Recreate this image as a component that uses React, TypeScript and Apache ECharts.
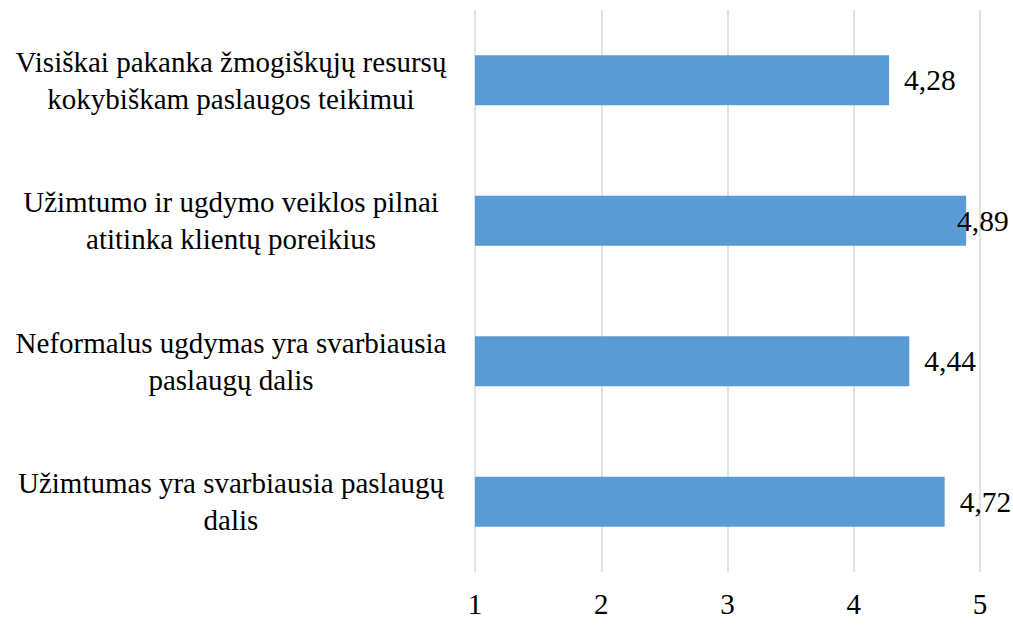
import React, { useEffect, useRef } from "react";
import * as echarts from "echarts";

const categories: string[] = [
  "Visiškai pakanka žmogiškųjų resursų\nkokybiškam paslaugos teikimui",
  "Užimtumo ir ugdymo veiklos pilnai\natitinka klientų poreikius",
  "Neformalus ugdymas yra svarbiausia\npaslaugų dalis",
  "Užimtumas yra svarbiausia paslaugų\ndalis",
];
const values: number[] = [4.28, 4.89, 4.44, 4.72];
const axisMin = 1;
const axisMax = 5;
const axisStep = 1;

const FONT = "Liberation Serif, serif";

export default function App() {
  const ref = useRef<HTMLDivElement>(null);
  useEffect(() => {
    if (!ref.current) return;
    const chart = echarts.init(ref.current, undefined, { renderer: "svg" });
    chart.setOption({
      animation: false,
      backgroundColor: "#ffffff",
      textStyle: { fontFamily: FONT },
      grid: { left: 475, right: 33, top: 10, bottom: 58, containLabel: false },
      xAxis: {
        type: "value",
        min: axisMin,
        max: axisMax,
        interval: axisStep,
        axisLine: { show: false },
        axisTick: { show: false },
        splitLine: { show: true, lineStyle: { color: "#d9d9d9", width: 1.5 } },
        axisLabel: {
          color: "#000000",
          fontSize: 29,
          fontFamily: FONT,
          margin: 17,
        },
      },
      yAxis: {
        type: "category",
        inverse: true,
        data: categories,
        axisLine: { show: false },
        axisTick: { show: false },
        splitLine: { show: false },
        axisLabel: {
          color: "#000000",
          fontSize: 29,
          fontFamily: FONT,
          align: "center",
          margin: 244,
          lineHeight: 37,
        },
      },
      series: [
        {
          type: "bar",
          barWidth: 50,
          itemStyle: { color: "#5b9bd5" },
          data: values.map((v) =>
            v > 4.8
              ? { value: v, label: { offset: [-24, 0] } }
              : { value: v }
          ),
          label: {
            show: true,
            position: "right",
            distance: 15,
            color: "#000000",
            fontSize: 29.5,
            fontFamily: FONT,
            formatter: (p: any) => String(p.value.toFixed(2)).replace(".", ","),
          },
        },
      ],
    });
    return () => chart.dispose();
  }, []);
  return (
    <div
      ref={ref}
      style={{ position: "fixed", left: 0, top: 0, width: 1013, height: 630 }}
    />
  );
}
